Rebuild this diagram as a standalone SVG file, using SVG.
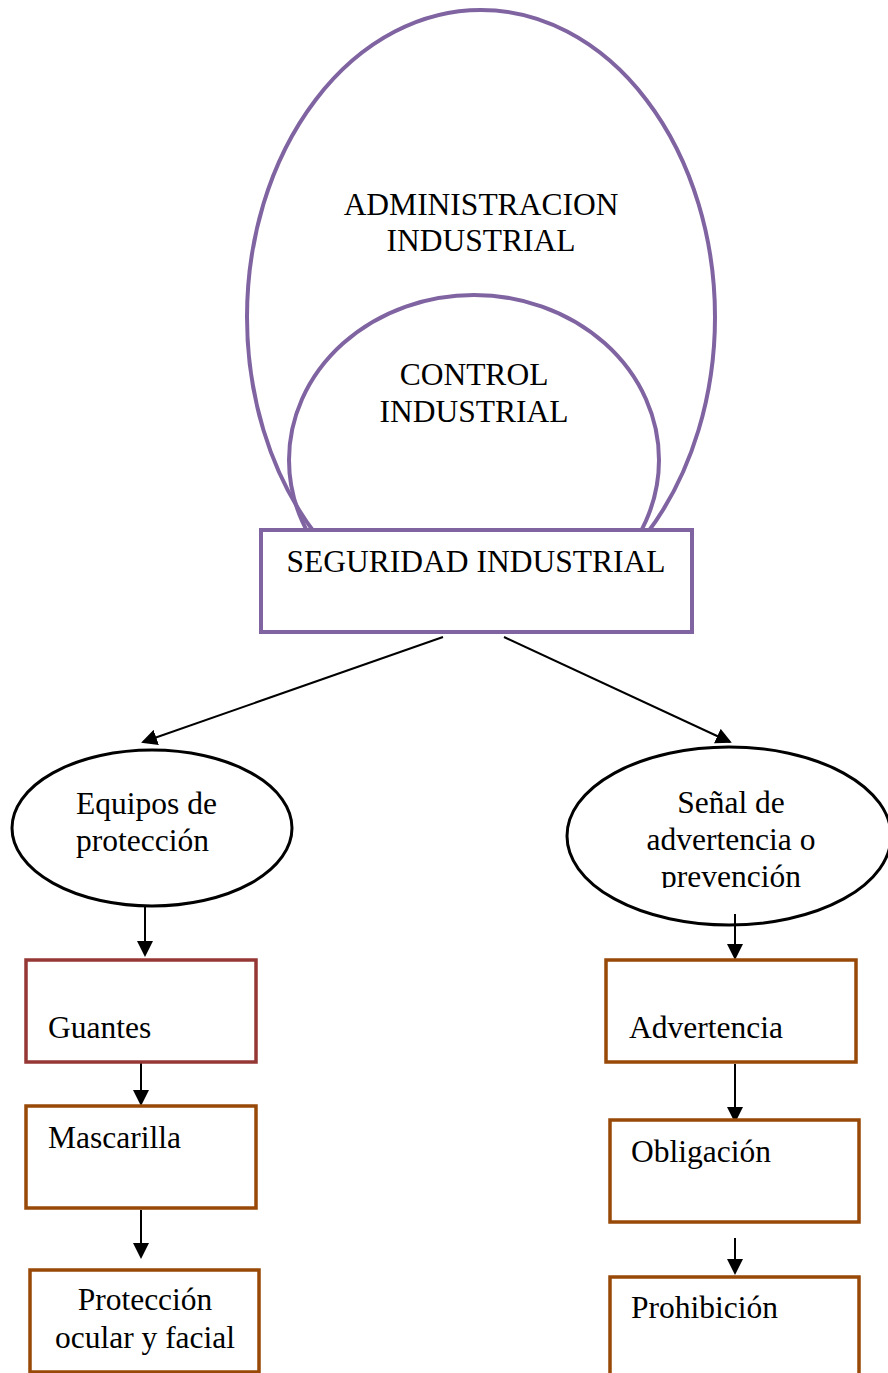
<svg xmlns="http://www.w3.org/2000/svg" width="888" height="1373" viewBox="0 0 888 1373">
<style>
text{font-family:"Liberation Serif","Times New Roman",serif;font-size:31.5px;fill:#000}
.c{text-anchor:middle}
.pur{fill:none;stroke:#8064A2;stroke-width:4}
.blk{fill:#fff;stroke:#000;stroke-width:3}
.red{fill:#fff;stroke:#953735;stroke-width:3.5}
.org{fill:#fff;stroke:#984807;stroke-width:3.5}
.con{stroke:#000;stroke-width:2;fill:none;marker-end:url(#ah)}
</style>
<defs>
<marker id="ah" markerWidth="8" markerHeight="8" refX="7" refY="4" orient="auto" markerUnits="strokeWidth">
<path d="M0,0 L8,4 L0,8 z" fill="#000"/>
</marker>
<clipPath id="clipS"><rect x="560" y="740" width="328" height="148"/></clipPath>
</defs>
<rect width="888" height="1373" fill="#fff"/>
<g id="admin">
<ellipse class="pur" cx="481" cy="317" rx="234" ry="307"/>
<text class="c" x="481" y="215">ADMINISTRACION</text>
<text class="c" x="481" y="251">INDUSTRIAL</text>
</g>
<g id="control">
<ellipse class="pur" cx="474" cy="460" rx="185" ry="165"/>
<text class="c" x="474" y="385">CONTROL</text>
<text class="c" x="474" y="422">INDUSTRIAL</text>
</g>
<g id="seguridad">
<rect x="261" y="530" width="431" height="102" fill="#fff" stroke="#8064A2" stroke-width="4"/>
<text class="c" x="476" y="572">SEGURIDAD INDUSTRIAL</text>
</g>
<g id="connectors">
<line class="con" x1="443" y1="637" x2="143" y2="742"/>
<line class="con" x1="504" y1="637" x2="730" y2="742"/>
<line class="con" x1="145" y1="907" x2="145" y2="955"/>
<line class="con" x1="141" y1="1057" x2="141" y2="1104"/>
<line class="con" x1="141" y1="1210" x2="141" y2="1257"/>
<line class="con" x1="735" y1="1064" x2="735" y2="1121"/>
<line class="con" x1="735" y1="1238" x2="735" y2="1273"/>
</g>
<g id="equipos">
<ellipse class="blk" cx="152" cy="828" rx="140" ry="78"/>
<text x="76" y="814">Equipos de</text>
<text x="76" y="851">protección</text>
</g>
<g id="senal">
<ellipse class="blk" cx="729" cy="836" rx="162" ry="89"/>
<g clip-path="url(#clipS)">
<text class="c" x="731" y="813">Señal de</text>
<text class="c" x="731" y="850">advertencia o</text>
<text class="c" x="731" y="887">prevención</text>
</g>
<line class="con" x1="735" y1="914" x2="735" y2="958"/>
</g>
<g id="guantes">
<rect class="red" x="26" y="960" width="230" height="102"/>
<text x="48" y="1038">Guantes</text>
</g>
<g id="mascarilla">
<rect class="org" x="26" y="1106" width="230" height="102"/>
<text x="48" y="1148">Mascarilla</text>
</g>
<g id="proteccion">
<rect class="org" x="30" y="1270" width="229" height="102"/>
<text class="c" x="145" y="1310">Protección</text>
<text class="c" x="145" y="1348">ocular y facial</text>
</g>
<g id="advertencia">
<rect class="org" x="606" y="960" width="250" height="102"/>
<text x="629" y="1038">Advertencia</text>
</g>
<g id="obligacion">
<rect class="org" x="610" y="1120" width="249" height="102"/>
<text x="631" y="1162">Obligación</text>
</g>
<g id="prohibicion">
<rect class="org" x="610" y="1277" width="249" height="110"/>
<text x="631" y="1318">Prohibición</text>
</g>
</svg>
